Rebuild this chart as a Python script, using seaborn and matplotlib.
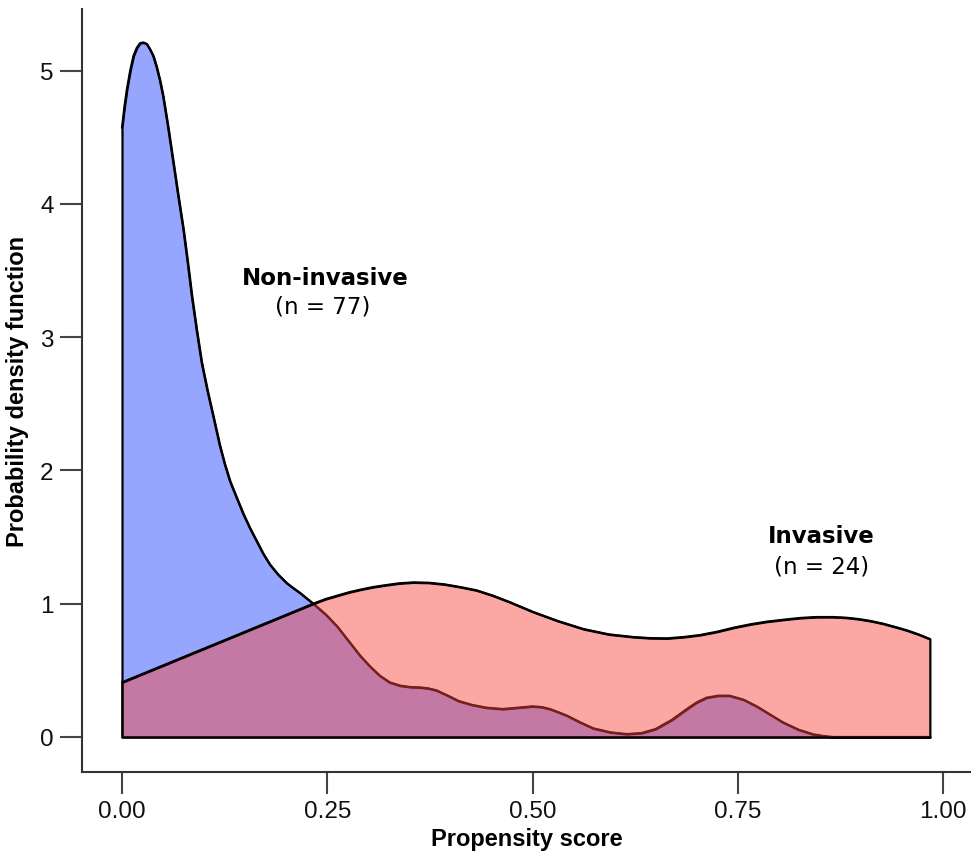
import numpy as np
import pandas as pd
import matplotlib
matplotlib.use("Agg")
import matplotlib.pyplot as plt
import seaborn as sns

# Density curve of non-invasive group
noninv_x = [0.000, 0.003, 0.006, 0.010, 0.014, 0.018, 0.022, 0.026, 0.030, 0.034,
            0.038, 0.042, 0.046, 0.050, 0.056, 0.0625, 0.068, 0.0747, 0.080, 0.085,
            0.091, 0.097, 0.104, 0.111, 0.119, 0.125, 0.1315, 0.140, 0.148, 0.156,
            0.164, 0.172, 0.180, 0.190, 0.2006, 0.208, 0.217, 0.225, 0.233, 0.248,
            0.262, 0.276, 0.290, 0.302, 0.314, 0.326, 0.339, 0.351, 0.363, 0.373,
            0.383, 0.397, 0.410, 0.427, 0.444, 0.464, 0.482, 0.500, 0.511, 0.521,
            0.532, 0.542, 0.558, 0.574, 0.595, 0.615, 0.633, 0.650, 0.670, 0.688,
            0.700, 0.712, 0.726, 0.740, 0.757, 0.773, 0.789, 0.805, 0.824, 0.842,
            0.855, 0.866, 0.900, 0.950, 0.984]
noninv_y = [4.57, 4.73, 4.86, 5.00, 5.11, 5.17, 5.205, 5.21, 5.20, 5.16,
            5.11, 5.03, 4.93, 4.81, 4.58, 4.31, 4.08, 3.81, 3.56, 3.31,
            3.05, 2.81, 2.60, 2.41, 2.19, 2.05, 1.92, 1.79, 1.67, 1.565,
            1.47, 1.375, 1.295, 1.22, 1.155, 1.12, 1.08, 1.04, 1.00, 0.92,
            0.83, 0.72, 0.61, 0.53, 0.46, 0.41, 0.385, 0.375, 0.372, 0.365,
            0.35, 0.31, 0.27, 0.24, 0.22, 0.21, 0.22, 0.23, 0.225, 0.21,
            0.185, 0.16, 0.11, 0.065, 0.035, 0.022, 0.03, 0.06, 0.13, 0.21,
            0.26, 0.295, 0.31, 0.31, 0.28, 0.23, 0.17, 0.11, 0.055, 0.02,
            0.007, 0.00, 0.00, 0.00, 0.00]

# Density curve of invasive group
inv_x = [0.000, 0.233, 0.248, 0.262, 0.276, 0.290, 0.306, 0.322, 0.338, 0.355,
         0.374, 0.393, 0.412, 0.432, 0.452, 0.473, 0.500, 0.531, 0.562, 0.593,
         0.623, 0.643, 0.664, 0.684, 0.704, 0.725, 0.745, 0.765, 0.785, 0.806,
         0.826, 0.846, 0.866, 0.882, 0.897, 0.912, 0.927, 0.942, 0.956, 0.970,
         0.984]
inv_y = [0.41, 1.00, 1.035, 1.06, 1.085, 1.105, 1.125, 1.14, 1.153, 1.16,
         1.157, 1.145, 1.125, 1.10, 1.06, 1.01, 0.94, 0.87, 0.81, 0.77,
         0.75, 0.742, 0.74, 0.75, 0.765, 0.79, 0.82, 0.845, 0.865, 0.88,
         0.893, 0.90, 0.90, 0.895, 0.885, 0.87, 0.85, 0.825, 0.80, 0.77,
         0.735]

groups = ["Non-invasive", "Invasive"]
group_n = [77, 24]
x_ticks = [0.00, 0.25, 0.50, 0.75, 1.00]
x_ticklabels = ["0.00", "0.25", "0.50", "0.75", "1.00"]
y_ticks = [0, 1, 2, 3, 4, 5]

sns.set_style("ticks")
plt.rcParams["font.family"] = ["Liberation Sans", "DejaVu Sans"]
plt.rcParams["text.color"] = "black"

fig = plt.figure(figsize=(9.71, 8.54), dpi=100)
ax = fig.add_axes([82 / 971, (854 - 773) / 854, (971 - 82) / 971, (773 - 10) / 854])

blue = "#96A6FF"
red = (248 / 255, 69 / 255, 62 / 255, 0.47)

df_non = pd.DataFrame({"x": noninv_x, "y": noninv_y})
df_inv = pd.DataFrame({"x": inv_x, "y": inv_y})

lw = 1.6
ax.fill_between(df_non["x"], df_non["y"], 0, facecolor=blue, edgecolor="black",
                linewidth=lw, joinstyle="round", zorder=2)
sns.lineplot(data=df_non, x="x", y="y", ax=ax, color="black", linewidth=lw,
             sort=False, zorder=2.1, solid_joinstyle="round", solid_capstyle="round")
ax.fill_between(df_inv["x"], df_inv["y"], 0, facecolor=red, edgecolor="black",
                linewidth=lw, joinstyle="round", zorder=3)
sns.lineplot(data=df_inv, x="x", y="y", ax=ax, color="black", linewidth=lw,
             sort=False, zorder=3.1, solid_joinstyle="round", solid_capstyle="round")

ax.set_xlim((82 - 122) / 821, (971 - 122) / 821)
ax.set_ylim((738 - 773) / 133.3, (738 - 10) / 133.3)
ax.set_xticks(x_ticks)
ax.set_xticklabels(x_ticklabels)
ax.set_yticks(y_ticks)

for side in ["top", "right"]:
    ax.spines[side].set_visible(False)
for side in ["left", "bottom"]:
    ax.spines[side].set_color("#333333")
    ax.spines[side].set_linewidth(1.5)
ax.tick_params(axis="both", direction="out", length=15.5, width=1.5, color="#444444",
               labelsize=17.5, pad=5, labelcolor="#111111")

ax.set_xlabel("Propensity score", fontsize=17, fontweight="bold", labelpad=3,
              color="black")
ax.set_ylabel("Probability density function", fontsize=17, fontweight="bold",
              labelpad=8, color="black")

lab_font = ["DejaVu Sans"]
ax.text(0.247, 3.45, groups[0], ha="center", va="center", fontsize=16.5,
        fontweight="bold", family=lab_font, color="black")
ax.text(0.245, 3.23, f"(n = {group_n[0]})", ha="center", va="center", fontsize=16.5,
        family=lab_font, color="black")
ax.text(0.852, 1.51, groups[1], ha="center", va="center", fontsize=16.5,
        fontweight="bold", family=lab_font, color="black")
ax.text(0.852, 1.28, f"(n = {group_n[1]})", ha="center", va="center", fontsize=16.5,
        family=lab_font, color="black")

fig.savefig("out.png", dpi=100)
